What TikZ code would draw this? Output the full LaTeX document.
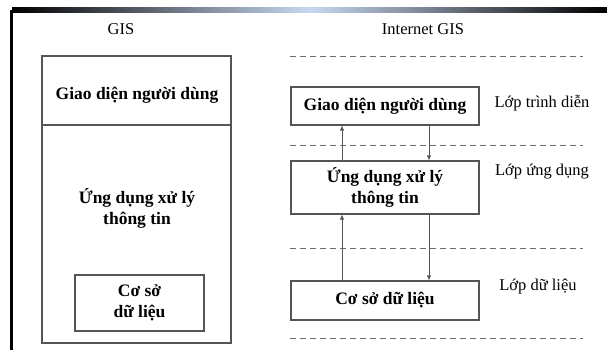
\documentclass[tikz,border=0pt]{standalone}
\usepackage{fontspec}
\setmainfont{Liberation Serif}
\usetikzlibrary{arrows.meta,calc}
\definecolor{edgegray}{RGB}{85,85,85}
\definecolor{dashgray}{RGB}{110,110,110}
\definecolor{barblue}{RGB}{200,216,240}
\tikzset{
  boldtext/.style={font=\fontsize{17.5}{21}\selectfont\bfseries, align=center, inner sep=0pt},
  layerbox/.style={draw=edgegray, line width=1.1pt, minimum width=188pt, boldtext},
  caption/.style={font=\fontsize{16.5}{18}\selectfont, inner sep=0pt, anchor=base},
  layerlabel/.style={font=\fontsize{16.5}{18}\selectfont, inner sep=0pt},
  sep/.style={draw=dashgray, line width=0.9pt, dash pattern=on 6pt off 4pt},
  flow/.style={draw=edgegray, line width=0.8pt, -{Latex[length=5pt,width=4.5pt]}}
}
\begin{document}
\begin{tikzpicture}[x=1pt,y=-1pt]
\useasboundingbox (0,0) rectangle (607,350);
% frame: shaded top bar and left rule
\shade[left color=black, right color=black, middle color=barblue] (12,8) rectangle (607,12.5);
\fill[black] (10,10) rectangle (13,350);

% ---- GIS (monolithic) ----
\node[caption] (gis) at (121,35) {GIS};
\node[draw=edgegray, line width=1.1pt, minimum width=189pt, minimum height=287pt, inner sep=0pt] (gisouter) at (136.5,199.5) {};
\node[draw=edgegray, line width=1.1pt, minimum width=189pt, minimum height=69pt, inner sep=0pt] (gisui) at (136.5,90.5) {};
\node[boldtext] (gisuitext) at (137,95) {Giao diện người dùng};
\node[boldtext] (gisapp) at (137,208) {Ứng dụng xử lý\\thông tin};
\node[draw=edgegray, line width=1.1pt, minimum width=129pt, minimum height=56pt, boldtext] (gisdb) at (139.5,303) {Cơ sở\\dữ liệu};

% ---- Internet GIS (layered) ----
\node[caption] (igis) at (423,35) {Internet GIS};
\coordinate (d1l) at (290,56);  \coordinate (d1r) at (583,56);
\coordinate (d2l) at (290,145); \coordinate (d2r) at (583,145);
\coordinate (d3l) at (290,248); \coordinate (d3r) at (583,248);
\coordinate (d4l) at (290,338); \coordinate (d4r) at (583,338);
\draw[sep] (d1l) -- (d1r);
\draw[sep] (d2l) -- (d2r);
\draw[sep] (d3l) -- (d3r);
\draw[sep] (d4l) -- (d4r);

\node[layerbox, minimum height=38pt] (ui) at (385,106) {Giao diện người dùng};
\node[layerbox, minimum height=53pt] (app) at (385,187.5) {Ứng dụng xử lý\\thông tin};
\node[layerbox, minimum height=39pt] (db) at (385,300.5) {Cơ sở dữ liệu};

\draw[flow] ([xshift=-43pt]app.north) -- ([xshift=-43pt]ui.south);
\draw[flow] ([xshift=44pt]ui.south) -- ([xshift=44pt]app.north);
\draw[flow] ([xshift=-43pt]db.north) -- ([xshift=-43pt]app.south);
\draw[flow] ([xshift=44pt]app.south) -- ([xshift=44pt]db.north);

\node[layerlabel] (lpres) at (542,103) {Lớp trình diễn};
\node[layerlabel] (lapp) at (542,172) {Lớp ứng dụng};
\node[layerlabel] (ldata) at (538,287) {Lớp dữ liệu};
\end{tikzpicture}
\end{document}
